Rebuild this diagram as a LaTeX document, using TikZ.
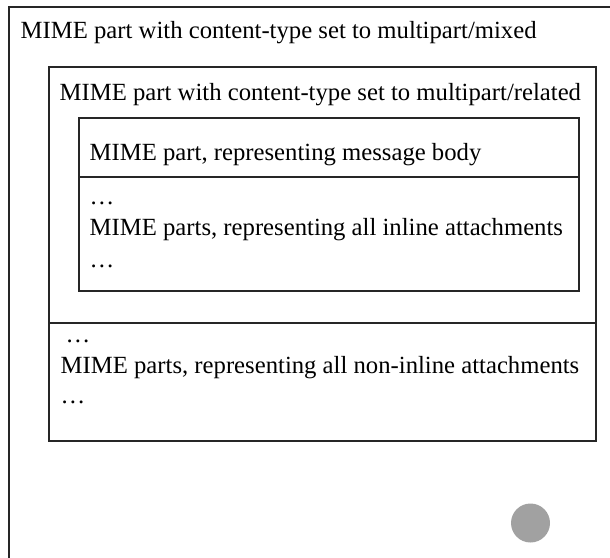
\documentclass[tikz,border=0pt]{standalone}
\usepackage{fontspec}
\setmainfont{Liberation Serif}
\begin{document}
\begin{tikzpicture}[x=1pt, y=-1pt, line width=1.4pt, font=\fontsize{24.7}{30}\selectfont]
\useasboundingbox (0,0) rectangle (610,557);
\clip (0,0) rectangle (610,557);

% outer part, multipart/mixed
\draw[black!85] (9,7) rectangle (630,580);
\node[anchor=base west, inner sep=0] (mixed) at (20,38) {MIME part with content-type set to multipart/mixed};

% multipart/related
\draw[black!85] (49,67) rectangle (596,441);
\draw[black!85] (49,323) -- (596,323);
\node[anchor=base west, inner sep=0] (related) at (59,100) {MIME part with content-type set to multipart/related};

\draw[black!85] (79,118) rectangle (579,291);
\draw[black!85] (79,177) -- (579,177);
\node[anchor=base west, inner sep=0] (body) at (89,160) {MIME part, representing message body};
\node[anchor=base west, inner sep=0] (dots1) at (89,204) {…};
\node[anchor=base west, inner sep=0] (inline) at (89,235) {MIME parts, representing all inline attachments};
\node[anchor=base west, inner sep=0] (dots2) at (89,267) {…};

% non-inline attachments
\node[anchor=base west, inner sep=0] (dots3) at (65,342) {…};
\node[anchor=base west, inner sep=0] (noninline) at (60,373) {MIME parts, representing all non-inline attachments};
\node[anchor=base west, inner sep=0] (dots4) at (60,403) {…};

\fill[black!37] (530.5,523) circle (19.5);
\end{tikzpicture}
\end{document}
